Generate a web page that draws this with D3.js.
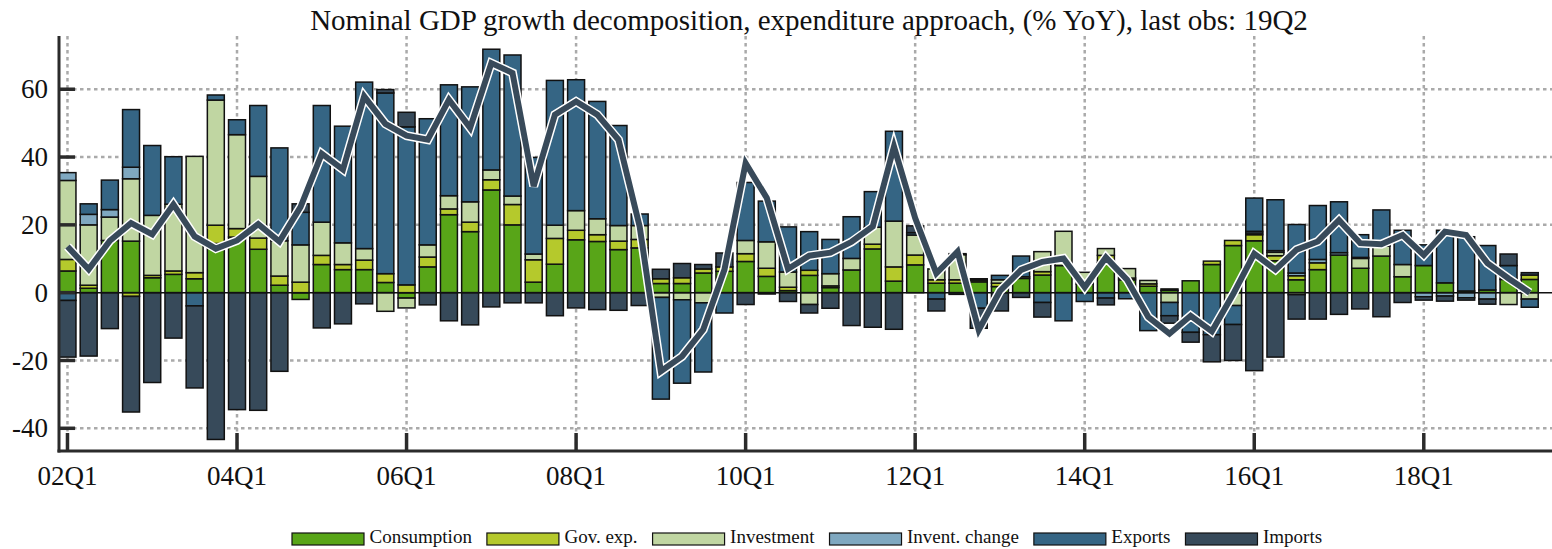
<!DOCTYPE html>
<html>
<head>
<meta charset="utf-8">
<script src="https://cdn.jsdelivr.net/npm/d3@7"></script>
<style>
  body { margin: 0; background: #fff; }
  text { font-family: "Liberation Serif", "Times New Roman", serif; fill: #111; }
</style>
</head>
<body>
<svg id="chart" width="1552" height="549"></svg>
<script>
// quarters 02Q1 .. 19Q2
const quarters = [];
for (let y = 2; y <= 19; y++) for (let q = 1; q <= 4; q++) {
    if (y === 19 && q > 2) break;
    quarters.push(String(y).padStart(2, "0") + "Q" + q);
}
const tickLabels = ["02Q1", "04Q1", "06Q1", "08Q1", "10Q1", "12Q1", "14Q1", "16Q1", "18Q1"];
const yTicks = [-40, -20, 0, 20, 40, 60];

const seriesNames = ["Consumption", "Gov. exp.", "Investment", "Invent. change", "Exports", "Imports"];
const seriesColors = ["#58a518", "#b5c92c", "#c0d6a2", "#7fa8c0", "#356584", "#374a5a"];

const consumption = [6.4, 1.3, 15.4, 15.2, 4.4, 5.4, 4.1, 14.5, 16.4, 12.8, 2.2, -2.0,
    8.3, 6.8, 6.8, 3.0, -1.6, 7.6, 23.0, 18.0, 30.3, 20.0, 3.1, 8.4,
    15.6, 15.1, 12.7, 13.2, 2.7, 2.7, 5.8, 6.3, 9.2, 4.8, 0.6, 5.1,
    1.5, 6.7, 12.9, 3.4, 8.2, 2.8, 2.8, 3.2, 1.8, 4.2, 5.2, 8.0,
    2.5, 8.8, 3.8, 1.9, 0.7, 3.5, 8.3, 13.9, 15.3, 9.4, 3.8, 6.8,
    11.1, 7.2, 10.8, 4.7, 8.0, 2.9, 0.5, 0.8, 3.9, 3.9];
const govExp = [3.4, 0.9, 0, -1.1, 0.7, 1.0, 1.8, 5.4, 2.5, 3.3, 2.7, 3.1,
    2.7, 1.5, 2.8, 2.6, 2.3, 2.9, 1.7, 2.8, 3.0, 6.0, 6.6, 7.6,
    2.8, 2.0, 2.5, 2.5, 1.4, 1.7, 1.2, 1.3, 2.3, 2.4, 1.0, 1.5,
    0.5, 0, 1.4, 4.2, 2.9, 1.0, 1.0, 0.5, 1.0, 0, 1.0, 0,
    0, 2.2, 0.5, 0.7, 0.4, 0, 1.0, 1.5, 1.8, 1.5, 1.2, 2.0,
    0, 0, 0, 0, 0, 0, 0, 0, 0, 1.3];
const investment = [23.3, 17.8, 6.9, 18.4, 17.7, 19.7, 34.3, 36.9, 27.7, 18.2, 10.4, 11.0,
    9.8, 6.4, 3.4, -5.5, -2.9, 3.6, 3.9, 6.0, 2.9, 2.5, 1.7, 3.9,
    5.8, 4.7, 4.6, 4.1, -1.4, -2.1, -3.0, 0, 3.9, 7.8, 4.5, -3.5,
    3.6, 3.4, 5.0, 13.5, 5.9, 3.2, 7.4, 0.4, 1.0, 0.5, 5.9, 10.1,
    3.5, 2.0, 2.8, 1.0, -2.9, 0, 0, -3.8, 0.5, 1.0, -0.6, 0,
    0, 2.9, 2.9, 3.6, 0, 0, 0, 0, -3.5, -1.9];
const inventChange = [2.3, 3.1, 2.2, 3.4, 0, 0, 0, 0, 0, 0, 0, 0,
    0, 0, 0, 0, 0, 0, 0, 0, 0, 0, 0, 0,
    0, 0, 0, 0, 0, 0, 0, 0, 0, 0, 0, 0,
    0, 0, 0, 0, 0, 0, 0, 0, 0, 0, 0, 0,
    0, 0, 0, 0, 0, 0, 0, 0, 0.5, 0.5, 0.8, 1.0,
    0.7, 0.3, 0.3, 0, -1.2, -1.0, -1.5, -1.9, 0, 0];
const exportsC = [-2.3, 3.1, 8.7, 17.0, 20.6, 14.0, -3.9, 1.5, 4.4, 20.9, 27.4, 9.6,
    34.4, 34.4, 49.1, 53.3, 46.6, 37.2, 32.7, 33.9, 35.6, 41.6, 28.5, 42.7,
    38.6, 34.6, 29.5, 3.4, -30.0, -24.6, -20.4, -6.0, 17.1, 12.0, 13.3, 11.4,
    10.1, 12.3, 10.5, 26.5, 0.7, -1.9, 0.3, -4.6, 1.3, 6.1, -2.9, -8.3,
    -2.6, -1.6, -1.8, -11.2, -3.9, -11.7, -12.4, -5.6, 9.8, 15.0, 14.3, 15.9,
    15.0, 6.7, 10.4, 10.1, 6.1, 15.5, 16.0, 13.1, 4.1, -2.4];
const importsC = [-16.7, -18.7, -10.6, -34.1, -26.5, -13.4, -24.2, -43.3, -34.5, -34.7, -23.2, 2.5,
    -10.4, -9.2, -3.3, 1.0, 4.3, -3.6, -8.3, -9.5, -4.2, -3.0, -3.0, -6.8,
    -4.5, -5.0, -5.2, -3.8, 2.8, 4.2, 1.3, 4.1, -3.5, -0.4, -2.6, -2.5,
    -4.6, -9.7, -10.2, -10.8, 2.0, -3.5, -0.5, -5.9, -5.4, -1.4, -4.3, 0,
    0, -2.0, 0, 0, -2.2, -2.9, -8.0, -10.6, -23.0, -19.0, -7.2, -7.8,
    -6.4, -4.8, -7.1, -2.9, -1.0, -1.5, -0.7, -1.5, 3.4, 0.7];
const totalGdp = [13.6, 6.9, 15.3, 20.5, 17.2, 26.0, 16.6, 13.0, 15.4, 20.2, 15.1, 25.3,
    41.0, 36.3, 57.9, 49.8, 46.3, 45.1, 56.9, 48.6, 67.7, 64.8, 31.4, 52.5,
    56.4, 52.5, 45.1, 19.5, -23.2, -18.8, -10.9, 6.8, 38.2, 27.9, 7.0, 10.9,
    11.8, 15.0, 19.5, 43.1, 22.0, 5.7, 12.1, -11.0, 0.5, 6.7, 9.1, 10.1,
    1.6, 10.4, 3.8, -7.2, -12.1, -6.8, -11.4, -0.5, 11.5, 6.8, 12.7, 15.1,
    21.4, 14.6, 14.3, 17.0, 11.1, 18.0, 17.0, 8.7, 4.2, 0.0];

const rows = quarters.map((q, i) => ({
    q, i,
    "Consumption": consumption[i], "Gov. exp.": govExp[i], "Investment": investment[i],
    "Invent. change": inventChange[i], "Exports": exportsC[i], "Imports": importsC[i]
}));

const svg = d3.select("#chart");
const plot = {left: 59, right: 1552, top: 36, bottom: 451};

const x = d3.scaleLinear().domain([-0.4, 70.05]).range([plot.left, plot.right]);
const y = d3.scaleLinear().domain([-46.7, 75.7]).range([plot.bottom, plot.top]);
const barW = x(0.8) - x(0);
const axisCol = "#2b2b2b";

// --- grid ---
const grid = svg.append("g");
grid.selectAll("line.h").data(yTicks.filter(d => d !== 0)).join("line")
    .attr("x1", plot.left).attr("x2", plot.right)
    .attr("y1", d => y(d)).attr("y2", d => y(d))
    .attr("stroke", "#aaa").attr("stroke-width", 2.5).attr("stroke-dasharray", "3.5,3.5");
grid.selectAll("line.v").data(tickLabels).join("line")
    .attr("x1", d => x(quarters.indexOf(d))).attr("x2", d => x(quarters.indexOf(d)))
    .attr("y1", plot.top).attr("y2", plot.bottom)
    .attr("stroke", "#aaa").attr("stroke-width", 2.5).attr("stroke-dasharray", "3.5,3.5");

// --- stacked bars (positives up, negatives down) ---
const stack = d3.stack().keys(seriesNames).offset(d3.stackOffsetDiverging);
const layers = stack(rows);

svg.append("g").selectAll("g").data(layers).join("g")
    .attr("fill", (d, k) => seriesColors[k])
    .selectAll("rect").data(d => d.filter(p => p[1] !== p[0])).join("rect")
    .attr("x", p => x(p.data.i) - barW / 2)
    .attr("width", barW)
    .attr("y", p => y(Math.max(p[0], p[1])))
    .attr("height", p => Math.abs(y(p[0]) - y(p[1])))
    .attr("stroke", "#111").attr("stroke-width", 1.5);

// zero line
svg.append("line")
    .attr("x1", plot.left).attr("x2", plot.right)
    .attr("y1", y(0)).attr("y2", y(0))
    .attr("stroke", "#111").attr("stroke-width", 1.5);

// --- total line (with white halo) ---
const line = d3.line().x((d, i) => x(i)).y(d => y(d));
svg.append("path").datum(totalGdp).attr("d", line)
    .attr("fill", "none").attr("stroke", "#fff").attr("stroke-width", 9);
svg.append("path").datum(totalGdp).attr("d", line)
    .attr("fill", "none").attr("stroke", "#384a5a").attr("stroke-width", 6);

// --- axes ---
const ax = svg.append("g");
ax.append("line").attr("x1", plot.left).attr("x2", plot.left)
    .attr("y1", plot.top).attr("y2", plot.bottom + 1.5)
    .attr("stroke", axisCol).attr("stroke-width", 3);
ax.append("line").attr("x1", plot.left - 1.5).attr("x2", plot.right)
    .attr("y1", plot.bottom).attr("y2", plot.bottom)
    .attr("stroke", axisCol).attr("stroke-width", 3);

ax.selectAll("line.yt").data(yTicks).join("line")
    .attr("x1", plot.left).attr("x2", plot.left + 16)
    .attr("y1", d => y(d)).attr("y2", d => y(d))
    .attr("stroke", axisCol).attr("stroke-width", 3.5);
ax.selectAll("text.yl").data(yTicks).join("text")
    .attr("x", 48).attr("y", d => y(d)).attr("dy", "0.34em")
    .attr("text-anchor", "end").attr("font-size", 27)
    .text(d => d);

ax.selectAll("line.xt").data(tickLabels).join("line")
    .attr("x1", d => x(quarters.indexOf(d))).attr("x2", d => x(quarters.indexOf(d)))
    .attr("y1", plot.bottom - 18).attr("y2", plot.bottom)
    .attr("stroke", axisCol).attr("stroke-width", 3.5);
ax.selectAll("text.xl").data(tickLabels).join("text")
    .attr("x", d => x(quarters.indexOf(d))).attr("y", 485)
    .attr("text-anchor", "middle").attr("font-size", 27)
    .text(d => d);

// --- title ---
svg.append("text").attr("x", 809).attr("y", 30)
    .attr("text-anchor", "middle").attr("font-size", 29)
    .text("Nominal GDP growth decomposition, expenditure approach, (% YoY), last obs: 19Q2");

// --- legend ---
const leg = svg.append("g");
let lx = 292;
seriesNames.forEach((name, k) => {
    leg.append("rect").attr("x", lx).attr("y", 533).attr("width", 72).attr("height", 12)
        .attr("fill", seriesColors[k]).attr("stroke", "#111").attr("stroke-width", 1.2);
    const t = leg.append("text").attr("x", lx + 77.5).attr("y", 542.5)
        .attr("font-size", 19).text(name);
    lx += 77.5 + t.node().getComputedTextLength() + 15;
});
</script>
</body>
</html>
